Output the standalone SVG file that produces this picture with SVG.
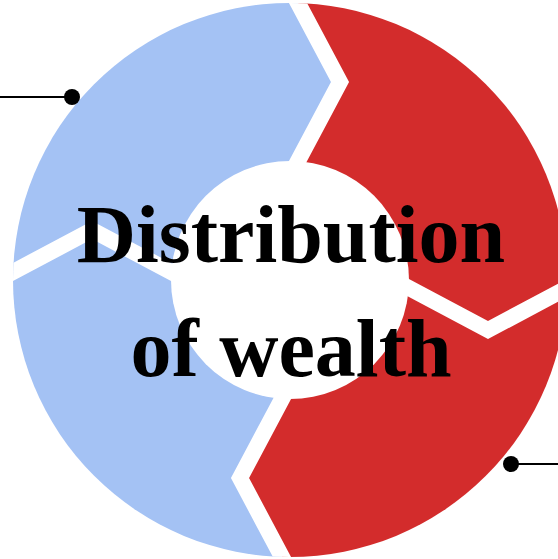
<svg xmlns="http://www.w3.org/2000/svg" width="558" height="559" viewBox="0 0 558 559">
  <style>
    .blue { fill: #A4C2F4; }
    .red { fill: #D32C2C; }
    .band { fill: none; stroke: #FFFFFF; stroke-width: 16; stroke-linejoin: miter; stroke-miterlimit: 10; }
    .title { font-family: "Liberation Serif", "Times New Roman", serif; font-weight: bold; font-size: 82px; fill: #000000; text-anchor: middle; }
    .line { stroke: #000000; stroke-width: 2; fill: none; }
    .dot { fill: #000000; }
  </style>
  <defs>
    <clipPath id="ring">
      <circle cx="290" cy="280" r="277"/>
    </clipPath>
  </defs>
  <rect width="558" height="559" fill="#FFFFFF"/>
  <g clip-path="url(#ring)">
    <g id="segment-top-left">
      <polygon class="blue" points="290,280 210.5,293 171,272 92,230 13,272 -34.4,297.2 -200,-200 272.8,-44.4 298,3 340,82 298,161 277,200.5"/>
    </g>
    <g id="segment-top-right">
      <polygon class="red" points="290,280 277,200.5 298,161 340,82 298,3 272.8,-44.4 700,-200 700,262.8 614.4,262.8 567,288 488,330 409,288 369.5,267"/>
    </g>
    <g id="segment-bottom-right">
      <polygon class="red" points="290,280 369.5,267 409,288 488,330 567,288 614.4,262.8 700,700 307.2,604.4 282,557 240,478 282,399 303,359.5"/>
    </g>
    <g id="segment-bottom-left">
      <polygon class="blue" points="290,280 303,359.5 282,399 240,478 282,557 307.2,604.4 -200,700 -34.4,297.2 13,272 92,230 171,272 210.5,293"/>
    </g>
    <g id="dividers">
      <polyline class="band" points="272.8,-44.4 298,3 340,82 298,161 277,200.5"/>
      <polyline class="band" points="614.4,262.8 567,288 488,330 409,288 369.5,267"/>
      <polyline class="band" points="307.2,604.4 282,557 240,478 282,399 303,359.5"/>
      <polyline class="band" points="-34.4,297.2 13,272 92,230 171,272 210.5,293"/>
    </g>
  </g>
  <g id="center">
    <circle cx="290" cy="280" r="119" fill="#FFFFFF"/>
    <text class="title" x="291" y="262">Distribution</text>
    <text class="title" x="291" y="376">of wealth</text>
  </g>
  <g id="connectors">
    <line class="line" x1="0" y1="97" x2="72" y2="97"/>
    <circle class="dot" cx="72" cy="97" r="8"/>
    <line class="line" x1="511" y1="464" x2="558" y2="464"/>
    <circle class="dot" cx="511" cy="464" r="8"/>
  </g>
</svg>
